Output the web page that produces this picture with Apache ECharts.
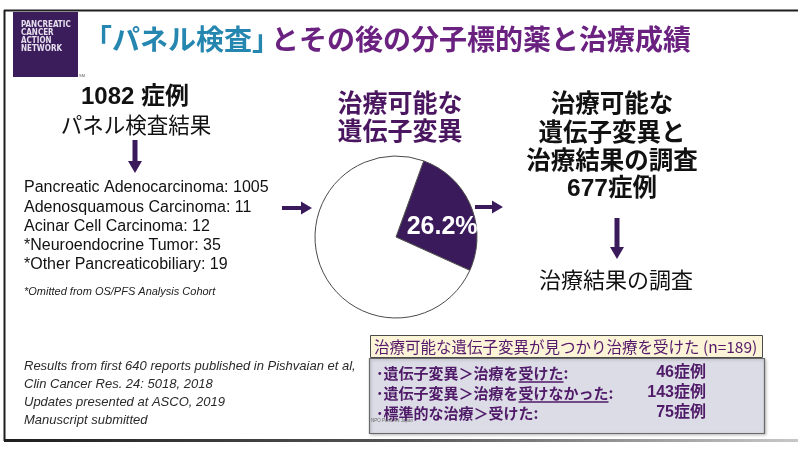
<!DOCTYPE html>
<html>
<head>
<meta charset="utf-8">
<script src="https://cdn.jsdelivr.net/npm/echarts@6/dist/echarts.min.js"></script>
<style>
  html, body { margin: 0; padding: 0; background: #ffffff; }
  #chart { width: 800px; height: 451px; }
</style>
</head>
<body>
<div id="chart"></div>
<script>
// Panel test cohort: tumour subtypes and counts
const totalCases = 1082;
const subtypeNames = [
  'Pancreatic Adenocarcinoma',
  'Adenosquamous Carcinoma',
  'Acinar Cell Carcinoma',
  '*Neuroendocrine Tumor',
  '*Other Pancreaticobiliary'
];
const subtypeCounts = [1005, 11, 12, 35, 19];

// Share of cases with an actionable alteration (percent)
const sliceNames = ['治療可能な遺伝子変異', 'その他'];
const sliceValues = [26.2, 73.8];

// Follow-up cohort
const studiedCases = 677;
const treatedTotal = 189;
const groupPrefixes = ['･遺伝子変異＞治療を', '･遺伝子変異＞治療を', '･標準的な治療＞'];
const groupVerbs = ['受けた', '受けなかった', '受けた'];
const groupUnderlined = [true, true, false];
const groupCounts = [46, 143, 75];

const citationLines = [
  'Results from first 640 reports published in Pishvaian et al,',
  'Clin Cancer Res. 24: 5018, 2018',
  'Updates presented at ASCO, 2019',
  'Manuscript submitted'
];

const CJK = '"Noto Sans CJK JP", sans-serif';
const SANS = '"Liberation Sans", "Noto Sans CJK JP", sans-serif';
const DARK = '#3b1a5c';
const PURPLE = '#6a2180';
const ROWPURPLE = '#4f1a68';

// text width helper, used to place underlines under a word
const measureCtx = document.createElement('canvas').getContext('2d');
function textWidth(s, font) {
  measureCtx.font = font;
  return measureCtx.measureText(s).width;
}

function txt(x, y, text, o) {
  o = o || {};
  return {
    type: 'text', x: x, y: y, silent: true,
    style: {
      text: text,
      fontSize: o.size || 14,
      fontWeight: o.weight || 'normal',
      fontStyle: o.italic ? 'italic' : 'normal',
      fontFamily: o.family || SANS,
      fill: o.color || '#111',
      align: o.align || 'left',
      verticalAlign: 'middle'
    }
  };
}
function arrowRight(x1, x2, y) {
  return { type: 'polygon', silent: true, shape: { points: [
    [x1, y - 2], [x2 - 11, y - 2], [x2 - 11, y - 6.5], [x2, y], [x2 - 11, y + 6.5], [x2 - 11, y + 2], [x1, y + 2]
  ] }, style: { fill: DARK } };
}
function arrowDown(x, y1, y2) {
  return { type: 'polygon', silent: true, shape: { points: [
    [x - 2.5, y1], [x + 2.5, y1], [x + 2.5, y2 - 12], [x + 7, y2 - 12], [x, y2], [x - 7, y2 - 12], [x - 2.5, y2 - 12]
  ] }, style: { fill: DARK } };
}

const g = [];

// slide frame
g.push({ type: 'line', silent: true, shape: { x1: 4, y1: 10.5, x2: 798, y2: 10.5 }, style: { stroke: '#1e1e1e', lineWidth: 2 } });
g.push({ type: 'line', silent: true, shape: { x1: 4.5, y1: 10, x2: 4.5, y2: 441 }, style: { stroke: '#1e1e1e', lineWidth: 2 } });
g.push({ type: 'rect', silent: true, shape: { x: 4, y: 439, width: 794, height: 3 }, style: {
  fill: { type: 'linear', x: 0, y: 0, x2: 1, y2: 0, colorStops: [
    { offset: 0, color: '#1e1e1e' }, { offset: 0.5, color: '#555' }, { offset: 1, color: '#c8c8c8' }
  ] }
} });

// logo
g.push({ type: 'rect', silent: true, shape: { x: 13, y: 12, width: 65, height: 65 }, style: { fill: '#3c1d5b' } });
['PANCREATIC', 'CANCER', 'ACTION', 'NETWORK'].forEach(function (w, i) {
  g.push(txt(21, 25 + i * 8, w, { size: 8, weight: 'bold', family: '"DejaVu Sans Condensed", sans-serif', color: '#e6e0ee' }));
});
g.push(txt(79, 76, 'SM', { size: 4, color: '#555' }));

// title
g.push(txt(84, 39, '「パネル検査」', { size: 28, weight: 'bold', family: CJK, color: '#2586b0' }));
g.push(txt(271, 39, 'とその後の分子標的薬と治療成績', { size: 28, weight: 'bold', family: CJK, color: PURPLE }));

// left column
g.push(txt(135, 97, totalCases + ' 症例', { size: 24, weight: 'bold', align: 'center' }));
g.push(txt(136, 125, 'パネル検査結果', { size: 21.5, align: 'center', family: CJK }));
g.push(arrowDown(135, 140, 173));
subtypeNames.forEach(function (n, i) {
  g.push(txt(24, 188 + i * 19.2, n + ': ' + subtypeCounts[i], { size: 16 }));
});
g.push(txt(24, 292, '*Omitted from OS/PFS Analysis Cohort', { size: 11, italic: true, color: '#222' }));
g.push(arrowRight(282, 312, 208));

// middle column heading
g.push(txt(400, 102, '治療可能な', { size: 25, weight: 'bold', family: CJK, color: '#4b1660', align: 'center' }));
g.push(txt(400, 130, '遺伝子変異', { size: 25, weight: 'bold', family: CJK, color: '#4b1660', align: 'center' }));
g.push(arrowRight(475, 503, 207));

// right column
['治療可能な', '遺伝子変異と', '治療結果の調査'].forEach(function (s, i) {
  g.push(txt(612, 103 + i * 28.5, s, { size: 24.5, weight: 'bold', family: CJK, align: 'center' }));
});
g.push(txt(612, 189, studiedCases + '症例', { size: 24.5, weight: 'bold', align: 'center' }));
g.push(arrowDown(617, 218, 259));
g.push(txt(616, 280, '治療結果の調査', { size: 22, family: CJK, align: 'center' }));

// citations
citationLines.forEach(function (s, i) {
  g.push(txt(24, 366 + i * 18, s, { size: 13, italic: true, color: '#2a2a2a' }));
});

// treated-cases table
g.push({ type: 'rect', silent: true, shape: { x: 369.5, y: 358.5, width: 395, height: 75 }, style: {
  fill: '#dcdce6', stroke: '#6a6a6a', lineWidth: 1.2, shadowBlur: 3, shadowColor: 'rgba(0,0,0,0.25)', shadowOffsetX: 1, shadowOffsetY: 1
} });
g.push({ type: 'rect', silent: true, shape: { x: 370.5, y: 335.5, width: 392, height: 22 }, style: {
  fill: '#fbf4d6', stroke: '#4a4a4a', lineWidth: 1
} });
g.push(txt(374, 347, '治療可能な遺伝子変異が見つかり治療を受けた (n=' + treatedTotal + ')', { size: 15.5, family: CJK, color: '#55186b' }));

groupPrefixes.forEach(function (p, i) {
  const y = 373 + i * 20;
  const fs = 15;
  const font = 'bold ' + fs + 'px ' + CJK;
  const xv = 376 + textWidth(p, font);
  const wv = textWidth(groupVerbs[i], font);
  g.push(txt(376, y, p + groupVerbs[i] + ':', { size: fs, weight: 'bold', family: CJK, color: ROWPURPLE }));
  if (groupUnderlined[i]) {
    g.push({ type: 'line', silent: true, shape: { x1: xv, y1: y + 9, x2: xv + wv, y2: y + 9 }, style: { stroke: ROWPURPLE, lineWidth: 1.6 } });
  }
  g.push(txt(706, y, groupCounts[i] + '症例', { size: 16, weight: 'bold', color: ROWPURPLE, align: 'right' }));
});
g.push(txt(371, 421, 'NPO PanCAN Japan', { size: 4.5, color: '#666' }));

const chart = echarts.init(document.getElementById('chart'), null, { renderer: 'canvas' });
chart.setOption({
  animation: false,
  backgroundColor: '#ffffff',
  series: [{
    type: 'pie',
    center: [396, 237],
    radius: 81,
    startAngle: 70,
    clockwise: true,
    silent: true,
    emphasis: { disabled: true },
    itemStyle: { borderColor: '#4a4a4a', borderWidth: 1 },
    label: { show: false },
    labelLine: { show: false },
    data: [
      { name: sliceNames[0], value: sliceValues[0], itemStyle: { color: DARK },
        label: { show: true, position: 'inside', formatter: '{c}%', color: '#ffffff', fontSize: 25, fontWeight: 'bold', fontFamily: '"Liberation Sans", sans-serif' } },
      { name: sliceNames[1], value: sliceValues[1], itemStyle: { color: '#ffffff' } }
    ],
    labelLayout: function (p) {
      return p.dataIndex === 0 ? { dx: 6, dy: 7 } : {};
    }
  }],
  graphic: { elements: g }
});
</script>
</body>
</html>
